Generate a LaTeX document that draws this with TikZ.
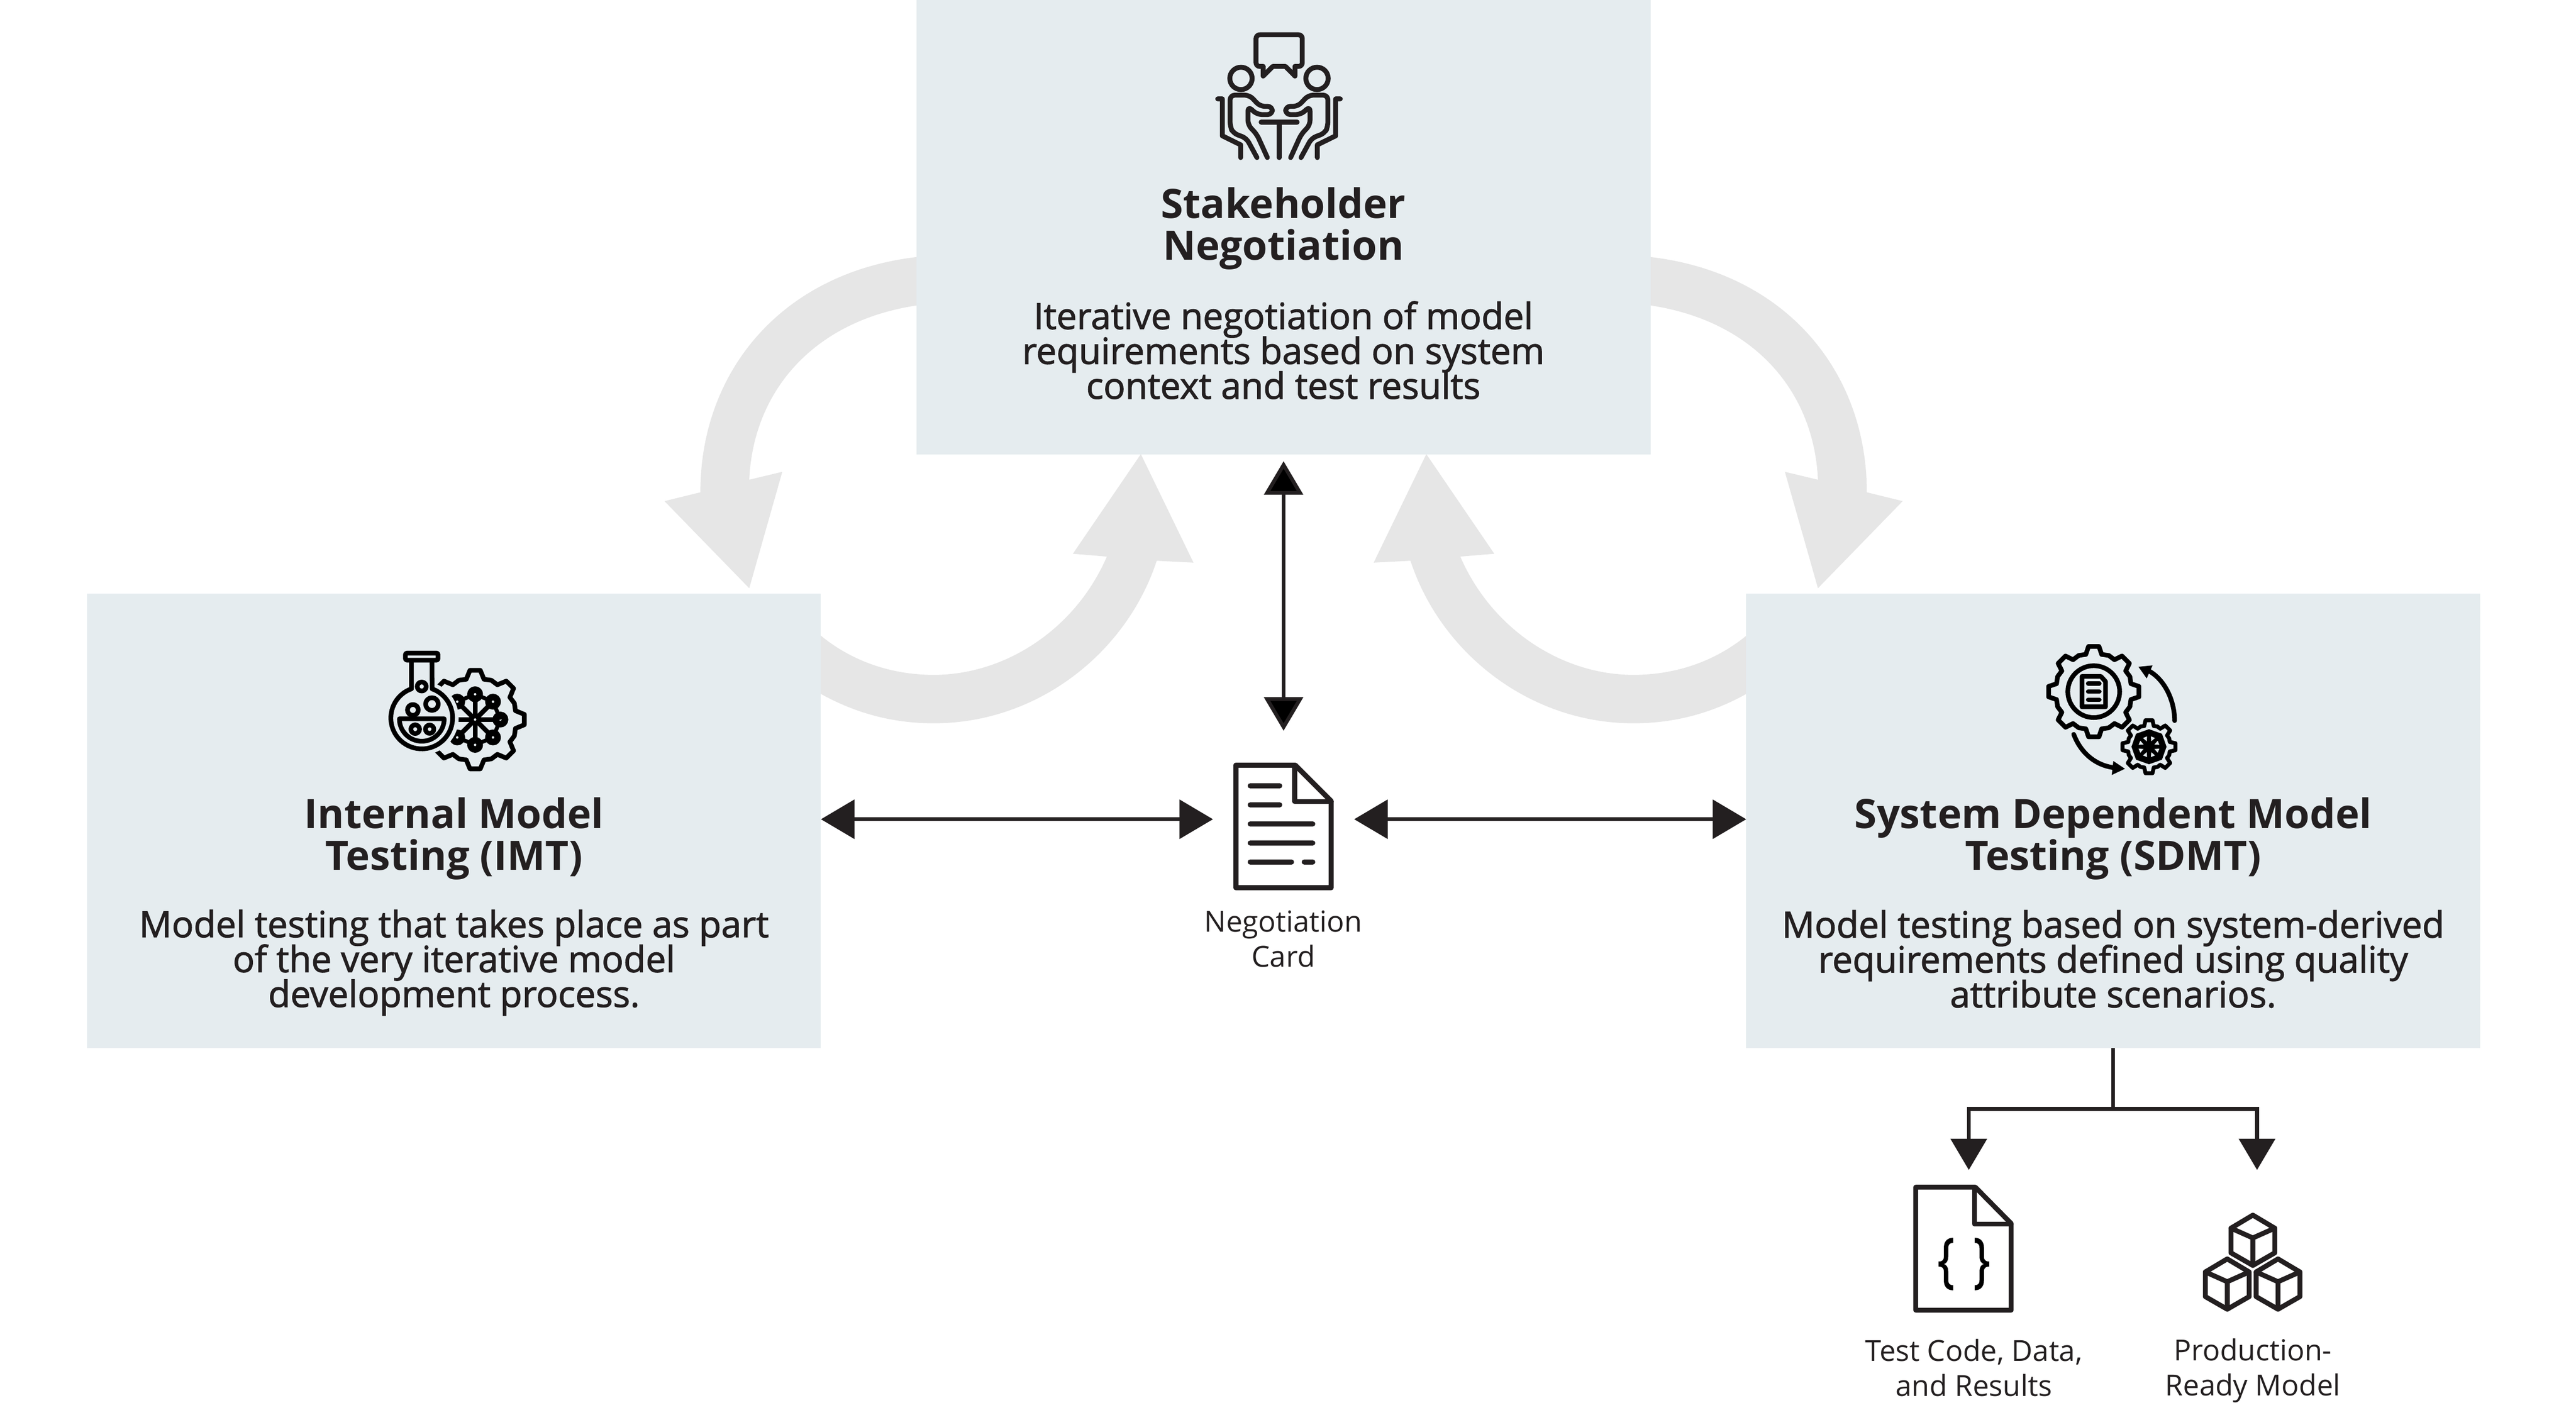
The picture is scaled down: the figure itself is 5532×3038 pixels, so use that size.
\documentclass[tikz,border=0pt]{standalone}
\usepackage{fontspec}
\setmainfont{Open Sans}
\newfontfamily\semifont[FakeBold=1.7]{Open Sans}
\usetikzlibrary{arrows.meta}

\definecolor{boxblue}{HTML}{E5ECEF}
\definecolor{fatgray}{HTML}{E6E6E6}
\definecolor{ink}{HTML}{231F20}

% #1 tip radius, #2 base radius, #3 tip half angle, #4 base half angle
\newcommand{\gearpath}[4]{
  (-90-#4:#2) \foreach \a in {-90,-45,...,225} {
    -- (\a-#4:#2) -- (\a-#3:#1) -- (\a+#3:#1) -- (\a+#4:#2) -- (\a+22.5:#2*1.03)
  } -- cycle
}

\begin{document}
\begin{tikzpicture}
        [x=.01cm,y=-.01cm,
        boxnode/.style={rectangle,fill=boxblue,minimum width=15.75cm,minimum height=9.75cm,inner sep=0,outer sep=0},
        spotnode/.style={rectangle,inner sep=0,outer sep=0},
        titletext/.style={align=center,text=ink,font=\fontsize{24.75}{25.6}\selectfont\bfseries},
        bodytext/.style={align=center,text=ink,font={\fontsize{22.1}{21.3}\selectfont\semifont\lineskiplimit=-100pt}},
        captext/.style={align=center,text=ink,font=\fontsize{17.7}{21.3}\selectfont},
        bracetext/.style={text=black,inner sep=0,xscale=.75,transform shape,font=\fontsize{36}{36}\selectfont\semifont},
        linkarrow/.style={line width=.08cm,draw=ink,>={Triangle[length=.72cm,width=.83cm]}},
        treearrow/.style={line width=.08cm,draw=ink,>={Triangle[length=.67cm,width=.77cm]}},
        iconline/.style={draw=ink,line width=.105cm,line cap=round,line join=round},
        gearline/.style={draw=black,line width=.1cm,line join=round}]
    \useasboundingbox (0,0) rectangle (5532,3038);

    % fat arrows, right side is the mirror of the left one
    \foreach \off/\flip in {0/1,5513/-1} {
        \begin{scope}[shift={(\off,0)},xscale=\flip]
            \fill[fatgray] (2000,549) .. controls (1695,570) and (1504,785) .. (1504,1057)
                -- (1427,1076) -- (1609,1263) -- (1680,1013) -- (1609,1030)
                .. controls (1618,830) and (1760,675) .. (2000,652) -- cycle;
            \fill[fatgray] (1735,1342) -- (1763,1365) .. controls (1830,1420) and (1915,1449) .. (2005,1449)
                .. controls (2160,1449) and (2310,1350) .. (2377,1195)
                -- (2304,1189) -- (2450,975) -- (2563,1208) -- (2484,1204)
                .. controls (2420,1400) and (2230,1553) .. (2005,1553)
                .. controls (1915,1553) and (1835,1530) .. (1763,1490) -- (1735,1474) -- cycle;
        \end{scope}
    }

    \node[boxnode] (stake) at (2756.5,487.5) {};
    \node[boxnode] (imt) at (975,1762.5) {};
    \node[boxnode] (sdmt) at (4538,1762.5) {};

    \node[titletext] (staketitle) at (2756,491) {Stakeholder\\Negotiation};
    \node[bodytext] (stakebody) at (2756,752) {Iterative negotiation of model\\requirements based on system\\context and test results};
    \node[titletext] (imttitle) at (975,1801) {Internal Model\\Testing (IMT)};
    \node[bodytext] (imtbody) at (975,2067) {Model testing that takes place as part\\of the very iterative model\\development process.};
    \node[titletext] (sdmttitle) at (4538,1801) {System Dependent Model\\Testing (SDMT)};
    \node[bodytext] (sdmtbody) at (4538,2059) {Model testing based on system-derived\\requirements defined using quality\\attribute scenarios.};

    \node[spotnode,minimum width=3.03cm,minimum height=3.8cm] (card) at (2756.5,1759) {};
    \node[captext] (cardtext) at (2756,2016) {Negotiation\\Card};
    \node[captext] (testtext) at (4239,2937) {Test Code, Data,\\and Results};
    \node[captext] (prodtext) at (4838,2943) {Production-\\Ready Model};

    \draw [linkarrow,<->] (imt.east |- card) -- (card);
    \draw [linkarrow,<->] (sdmt.west |- card) -- (card);
    \path [linkarrow,<->,shorten <=.15cm] (stake) edge (card);

    \coordinate (split) at (4538,2381);
    \coordinate (testtop) at (4228,2512);
    \coordinate (prodtop) at (4847,2512);
    \draw[treearrow] (sdmt) -- (split);
    \draw[treearrow,->] (split) -| (testtop);
    \draw[treearrow,->] (split) -| (prodtop);

    % stakeholder icon
    \begin{scope}[shift={(2500,30)},scale=.3333]
        \draw[iconline,rounded corners=.08cm] (638,338) -- (592,338) -- (592,134) -- (890,134) -- (890,338) -- (843,338);
        \draw[iconline] (638,338) -- (638,400) -- (700,338) -- (782,338) -- (843,400) -- (843,338);
        \foreach \off/\flip in {0/1,1480/-1} {
            \begin{scope}[shift={(\off,0)},xscale=\flip]
                \draw[iconline] (495,415) circle (72);
                \draw[iconline,rounded corners=.1cm] (598,925) -- (530,800) -- (445,768) -- (425,725) -- (425,523)
                    -- (550,523) -- (618,595) -- (697,595) -- (697,648) -- (600,648) -- (540,595)
                    -- (540,715) -- (597,775) -- (665,925);
                \draw[iconline] (345,547) -- (375,547) -- (375,785) -- (493,843) -- (493,925);
            \end{scope}
        }
        \draw[iconline] (625,697) -- (857,697) (741,697) -- (741,925);
    \end{scope}

    % flask and gear icon
    \begin{scope}[shift={(780,1350)},scale=.3333]
        \begin{scope}[shift={(721,585)}]
            \draw[gearline] \gearpath{319}{266}{6}{12.4};
            \foreach \a in {0,45,...,315} {
                \draw[gearline] (0,0) -- (\a:163);
                \draw[gearline,line width=.085cm] (\a:163) -- (\a+45:163);
                \draw[gearline,fill=black] (\a:163) circle (36);
                \fill[boxblue] (\a:163) circle (8);
            }
            \fill[boxblue] (0,0) circle (8);
        \end{scope}
        \fill[boxblue] (377,575) circle (238);
        \draw[gearline,rounded corners=.03cm] (272,157) rectangle (482,202);
        \draw[gearline] (311,202) -- (311,387) arc[start angle=-109.4,end angle=-109.4-320.8,radius=199] -- (443,202);
        \draw[gearline,fill=boxblue] (377,372) circle (29);
        \draw[gearline] (443,485) circle (41);
        \draw[gearline] (320,523) circle (35);
        \draw[gearline] (233,580) -- (522,580) arc[start angle=0,end angle=180,radius=144.5] -- cycle;
        \draw[gearline] (335,647) circle (28);
        \draw[gearline] (428,647) circle (27);
    \end{scope}

    % gears with document icon
    \begin{scope}[shift={(4340,1350)},scale=.3333]
        \begin{scope}[shift={(469,405)}]
            \draw[gearline] \gearpath{293}{245}{6.6}{12};
            \draw[gearline] (0,0) circle (167);
        \end{scope}
        \draw[gearline] (393,307) -- (515,307) -- (545,340) -- (545,503) -- (393,503) -- cycle;
        \foreach \y in {352,405,458} {
            \draw[gearline,line cap=round,line width=.095cm] (433,\y) -- (505,\y);
        }
        \draw[gearline,line cap=round] (990,592) .. controls (990,460) and (925,330) .. (830,275);
        \fill[black] (757,245) -- (848,236) -- (810,320) -- cycle;
        \draw[gearline,line cap=round] (340,680) .. controls (385,800) and (480,880) .. (600,895);
        \fill[black] (670,902) -- (595,852) -- (585,942) -- cycle;
        \begin{scope}[shift={(825,760)}]
            \draw[gearline,line width=.085cm] \gearpath{172}{137}{7.5}{13};
            \fill[black] (-90:113) -- (-45:118) -- (0:113) -- (45:118) -- (90:113) -- (135:118) -- (180:113) -- (225:118) -- cycle;
            \foreach \a in {-67.5,-22.5,...,247.5} {
                \fill[boxblue] (\a-12:68) -- (\a+12:68) -- (\a:38) -- cycle;
            }
        \end{scope}
    \end{scope}

    % negotiation card icon
    \begin{scope}[shift={(2600,1610)},scale=.3333]
        \draw[iconline,line width=.11cm] (162,99) -- (545,99) -- (776,330) -- (776,888) -- (162,888) -- cycle;
        \draw[iconline,line width=.11cm] (542,99) -- (542,333) -- (776,333);
        \foreach \y/\xa/\xb in {232/255/444,354/255/444,477/255/657,600/255/657,722/255/520,722/603/657} {
            \draw[iconline,line width=.113cm] (\xa,\y) -- (\xb,\y);
        }
    \end{scope}

    % test code icon
    \draw[iconline] (4114,2549) -- (4242,2549) -- (4319,2627) -- (4319,2813) -- (4114,2813) -- cycle;
    \draw[iconline] (4240,2549) -- (4240,2628) -- (4319,2628);
    \node[bracetext] (braceleft) at (4179,2714) {\{};
    \node[bracetext] (braceright) at (4256,2714) {\}};

    % production model icon
    \foreach \cx/\cy in {4838/2663,4783/2757,4892/2757} {
        \begin{scope}[shift={(\cx,\cy)}]
            \draw[iconline] (0,-54) -- (47,-26) -- (47,27) -- (0,54) -- (-47,27) -- (-47,-26) -- cycle;
            \draw[iconline] (-47,-26) -- (0,-5) -- (47,-26) (0,-5) -- (0,54);
        \end{scope}
    }
\end{tikzpicture}
\end{document}
